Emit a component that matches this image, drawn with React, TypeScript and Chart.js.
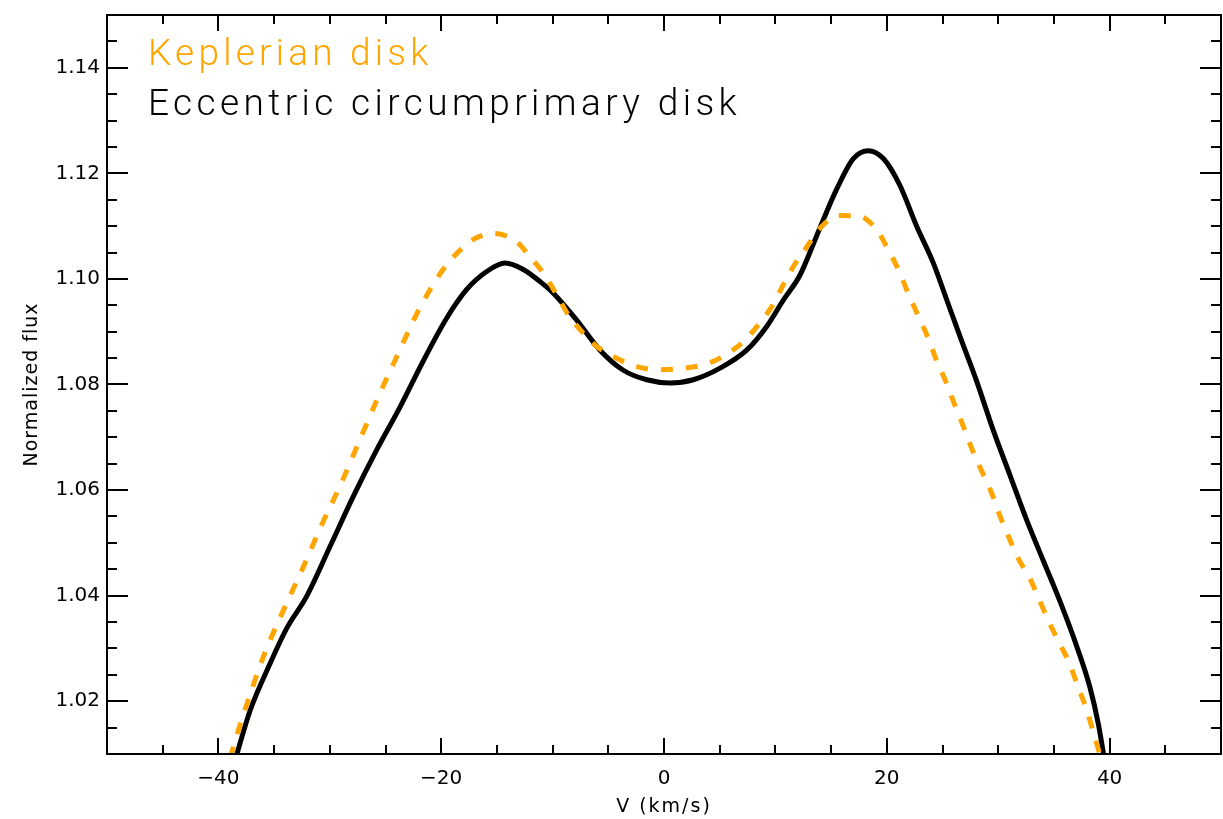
import React, { useEffect, useRef } from 'react';
import { Chart, registerables } from 'chart.js';

Chart.register(...registerables);

// ---- Data ----
const keplerianV = [
  -38.95, -38.06, -37.32, -35.97, -34.32, -32.53, -30.73, -28.93, -27.29, -25.64,
  -23.85, -22.05, -19.96, -18.61, -17.12, -15.25, -13.22, -12.03, -10.83, -9.63,
  -8.59, -7.24, -6.04, -4.55, -2.75, -0.51, 1.88, 3.97, 5.77, 7.27,
  8.46, 9.66, 10.71, 11.6, 12.8, 14.0, 15.7, 17.5, 19.09, 20.14,
  21.18, 21.93, 22.83, 23.73, 24.48, 25.37, 26.12, 26.87, 27.62, 28.52,
  29.42, 30.16, 30.91, 31.81, 32.86, 33.75, 34.65, 35.55, 36.45, 37.19,
  37.94, 38.54, 39.2,
];
const keplerianFlux = [
  1.0092, 1.0155, 1.0202, 1.0284, 1.0365, 1.0447, 1.0534, 1.0615, 1.0696, 1.0777,
  1.0859, 1.094, 1.1014, 1.1048, 1.1075, 1.1086, 1.107, 1.1042, 1.1011, 1.097,
  1.0932, 1.0897, 1.0872, 1.0853, 1.0836, 1.0828, 1.0831, 1.084, 1.0859, 1.0884,
  1.0913, 1.0947, 1.0989, 1.1023, 1.106, 1.1096, 1.112, 1.1119, 1.1093, 1.1055,
  1.1011, 1.0972, 1.093, 1.0887, 1.0845, 1.0802, 1.076, 1.0721, 1.0679, 1.0636,
  1.0594, 1.0551, 1.0513, 1.047, 1.0432, 1.0389, 1.0346, 1.0308, 1.0269, 1.0226,
  1.0184, 1.0141, 1.0094,
];
const eccentricV = [
  -38.45, -37.16, -35.37, -33.87, -32.07, -29.98, -27.89, -25.79, -23.7, -21.6,
  -19.5, -17.71, -15.92, -14.27, -12.63, -11.13, -9.93, -7.84, -5.74, -3.65,
  -1.55, 0.54, 2.63, 5.03, 7.42, 9.22, 10.71, 12.2, 13.71, 15.5,
  17.0, 18.34, 19.69, 21.18, 22.68, 24.18, 25.37, 26.57, 28.07, 29.56,
  31.06, 32.56, 34.05, 35.55, 37.05, 38.24, 38.99, 39.5,
];
const eccentricFlux = [
  1.0092, 1.0182, 1.0271, 1.0338, 1.0399, 1.0493, 1.0588, 1.0676, 1.0757, 1.0845,
  1.0926, 1.098, 1.1014, 1.103, 1.1018, 1.0995, 1.0973, 1.0922, 1.0865, 1.0827,
  1.0809, 1.0803, 1.0809, 1.0831, 1.0865, 1.091, 1.096, 1.1007, 1.1082, 1.117,
  1.1228, 1.1243, 1.1228, 1.1177, 1.11, 1.103, 1.0961, 1.0891, 1.0806, 1.0713,
  1.0628, 1.0543, 1.0466, 1.0389, 1.0304, 1.0226, 1.0157, 1.0094,
];
const seriesLabels = ['Keplerian disk', 'Eccentric circumprimary disk'];
const xAxisTitle = 'V (km/s)';
const yAxisTitle = 'Normalized flux';
const xRange = [-50, 50];
const yRange = [1.01, 1.15];
const xMajorStep = 20;
const xMinorStep = 5;
const yMajorStep = 0.02;
const yMinorStep = 0.005;

const ORANGE = '#FFA500';
const BLACK = '#000000';

const isMultiple = (v: number, step: number) => Math.abs(v / step - Math.round(v / step)) < 1e-6;

const framePlugin = {
  id: 'idlFrame',
  afterDraw(chart: any) {
    const { ctx, chartArea: a, scales } = chart;
    const xs = scales.x;
    const ys = scales.y;
    ctx.save();
    ctx.strokeStyle = BLACK;
    ctx.lineWidth = 2;
    ctx.lineCap = 'butt';
    ctx.beginPath();
    ctx.rect(a.left, a.top, a.right - a.left, a.bottom - a.top);
    ctx.stroke();
    ctx.beginPath();
    for (const t of xs.ticks) {
      const px = Math.round(xs.getPixelForValue(t.value));
      const len = isMultiple(t.value, xMajorStep) ? 16 : 9;
      ctx.moveTo(px, a.bottom);
      ctx.lineTo(px, a.bottom - len);
      ctx.moveTo(px, a.top);
      ctx.lineTo(px, a.top + len);
    }
    for (const t of ys.ticks) {
      const py = Math.round(ys.getPixelForValue(t.value));
      const len = isMultiple(t.value, yMajorStep) ? 21 : 10;
      ctx.moveTo(a.left, py);
      ctx.lineTo(a.left + len, py);
      ctx.moveTo(a.right, py);
      ctx.lineTo(a.right - len, py);
    }
    ctx.stroke();

    // Axis titles
    ctx.fillStyle = BLACK;
    ctx.font = '19px "DejaVu Sans"';
    (ctx as any).letterSpacing = '2px';
    ctx.textAlign = 'center';
    ctx.textBaseline = 'alphabetic';
    ctx.fillText(xAxisTitle, (a.left + a.right) / 2, 812);
    ctx.save();
    ctx.translate(37, (a.top + a.bottom) / 2);
    ctx.rotate(-Math.PI / 2);
    (ctx as any).letterSpacing = '1px';
    ctx.fillText(yAxisTitle, 0, 0);
    ctx.restore();

    // Legend text
    const ds = chart.data.datasets;
    ctx.textAlign = 'left';
    ctx.font = '300 37px Roboto';
    (ctx as any).letterSpacing = '4.2px';
    ctx.fillStyle = ds[0].borderColor;
    ctx.fillText(ds[0].label, a.left + 41, a.top + 50);
    (ctx as any).letterSpacing = '4.4px';
    ctx.fillStyle = ds[1].borderColor;
    ctx.fillText(ds[1].label, a.left + 41, a.top + 100);
    (ctx as any).letterSpacing = '0px';
    ctx.restore();
  },
};

export default function App() {
  const canvasRef = useRef<HTMLCanvasElement | null>(null);

  useEffect(() => {
    document.body.style.margin = '0';
    const canvas = canvasRef.current;
    if (!canvas) return;
    const chart = new Chart(canvas, {
      type: 'line',
      data: {
        datasets: [
          {
            label: seriesLabels[0],
            data: keplerianV.map((v, i) => ({ x: v, y: keplerianFlux[i] })),
            borderColor: ORANGE,
            borderWidth: 5,
            borderDash: [12, 13],
            borderCapStyle: 'butt',
            pointRadius: 0,
            cubicInterpolationMode: 'monotone',
            fill: false,
          },
          {
            label: seriesLabels[1],
            data: eccentricV.map((v, i) => ({ x: v, y: eccentricFlux[i] })),
            borderColor: BLACK,
            borderWidth: 5,
            pointRadius: 0,
            cubicInterpolationMode: 'monotone',
            fill: false,
          },
        ],
      },
      options: {
        animation: false,
        responsive: false,
        maintainAspectRatio: false,
        devicePixelRatio: 1,
        layout: { padding: { left: 0, top: 15, right: 2, bottom: 0 } },
        plugins: { legend: { display: false }, tooltip: { enabled: false } },
        scales: {
          x: {
            type: 'linear',
            min: xRange[0],
            max: xRange[1],
            ticks: {
              stepSize: xMinorStep,
              autoSkip: false,
              maxRotation: 0,
              padding: 13,
              color: BLACK,
              font: { family: '"DejaVu Sans"', size: 20 },
              callback: (v: any) => (isMultiple(Number(v), xMajorStep) ? String(v).replace('-', '\u2212') : ''),
            },
            grid: { display: false, drawTicks: false },
            border: { display: false },
            afterFit: (s: any) => {
              s.height = 65;
              s.paddingLeft = 0;
              s.paddingRight = 0;
            },
          },
          y: {
            type: 'linear',
            min: yRange[0],
            max: yRange[1],
            ticks: {
              stepSize: yMinorStep,
              autoSkip: false,
              padding: 7,
              color: BLACK,
              font: { family: '"DejaVu Sans"', size: 20 },
              callback: (v: any) => (isMultiple(Number(v), yMajorStep) ? Number(v).toFixed(2) : ''),
            },
            grid: { display: false, drawTicks: false },
            border: { display: false },
            afterFit: (s: any) => {
              s.width = 107;
              s.paddingTop = 0;
              s.paddingBottom = 0;
            },
          },
        },
      },
      plugins: [framePlugin],
    } as any);
    return () => chart.destroy();
  }, []);

  return (
    <div style={{ position: 'fixed', left: 0, top: 0, width: 1223, height: 819, background: '#fff' }}>
      <canvas ref={canvasRef} width={1223} height={819} style={{ display: 'block', width: 1223, height: 819 }} />
    </div>
  );
}
